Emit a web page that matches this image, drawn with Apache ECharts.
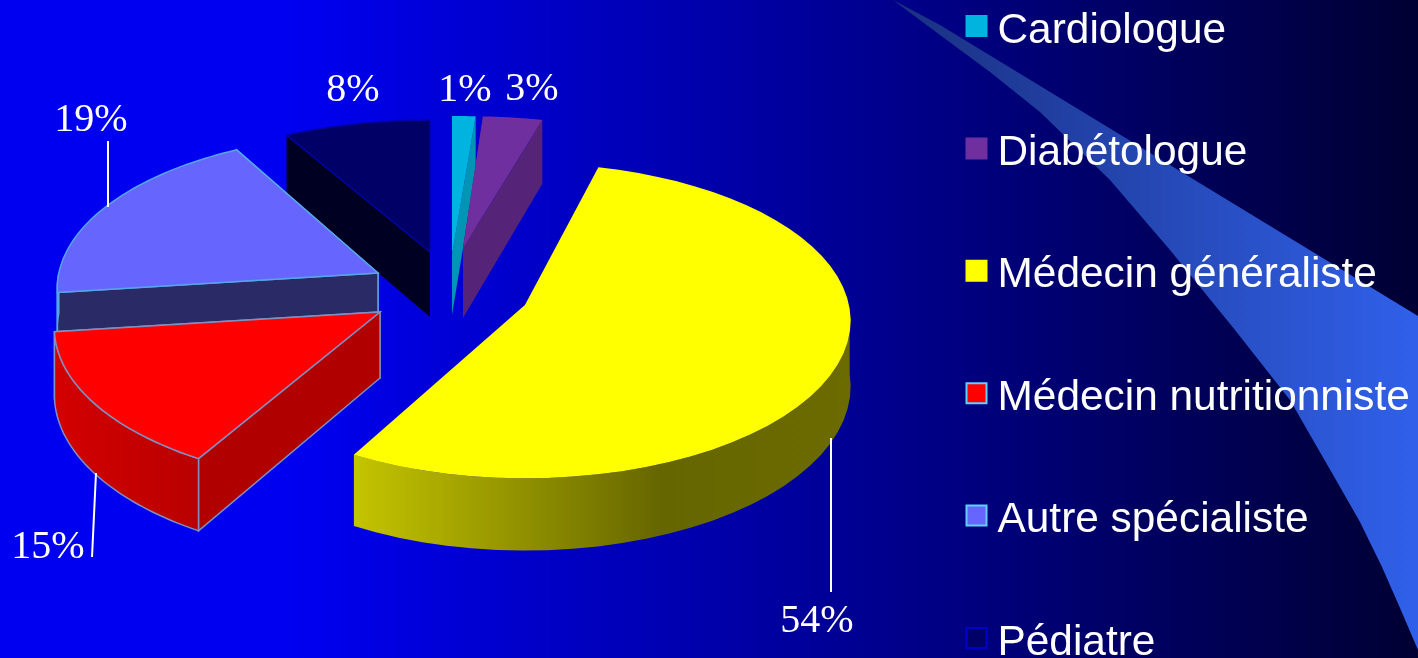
<!DOCTYPE html>
<html><head><meta charset="utf-8">
<style>html,body{margin:0;padding:0;background:#000033}#c{width:1418px;height:658px}</style>
<script src="https://cdn.jsdelivr.net/npm/echarts@6/dist/echarts.min.js"></script>
</head><body><div id="c"></div>
<script>
const categories = ['Cardiologue','Diabétologue','Médecin généraliste','Médecin nutritionniste','Autre spécialiste','Pédiatre'];
const shares = [1,3,54,15,19,8];

// look of each slice (exploded centre, thickness, colours, label place)
const A = 324, B = 156, K = 0.1;
const looks = [
 {cx:452,cy:255,ax:1.28,by:.98,h:60,z:1,top:'#00b4e0',cut:'#0095b5',side:'#0095b5',edge:null,legendEdge:'#00b4e0',lab:[465,90]},
 {cx:463,cy:248,ax:1.08,by:.93,h:70,z:2,top:'#6f2f9f',cut:'#552478',side:'#552478',edge:null,legendEdge:'#6f2f9f',lab:[532,89]},
 {cx:525,cy:305,ax:1,by:1,h:65,z:6,top:'#ffff00',cut:'#666600',side:'yellow',edge:null,legendEdge:'#ffff00',lab:[817,621],lead:[[831,438],[831,592]]},
 {cx:380,cy:312,ax:1,by:1,h:66,z:5,top:'#ff0000',cut:'#b00000',side:'red',edge:'#7f8fc0',legendEdge:'#5fd0ff',lab:[48,547],lead:[[96,473],[92,557]],startAdj:2},
 {cx:378,cy:273,ax:.985,by:.98,h:40,z:4,top:'#6666ff',cut:'#2a2a66',side:'#2a2a66',edge:'#55a5e8',legendEdge:'#5fd0ff',lab:[91,120],lead:[[108,141],[108,207]]},
 {cx:430,cy:252,ax:1,by:.93,h:65,z:3,top:'#000066',cut:'#000022',side:'#000022',edge:'#0000aa',legendEdge:'#0000cc',lab:[353,90]}
];
const swoosh = [[893,0],[940,25],[1418,316],[1418,650],[1400,608],[1382,567],[1360,522],[1332,473],[1290,400],[1235,330],[1170,250],[1110,180],[1040,112],[990,72],[940,35]];
const total = shares.reduce((a,b)=>a+b,0);
const starts = shares.map((_,i)=>shares.slice(0,i).reduce((a,b)=>a+b,0)/total*360);

function project(l, deg, down){
  const t = deg*Math.PI/180, u = Math.sin(t), v = Math.cos(t), s = 1/(1+K*v);
  return [l.cx + l.ax*A*u*s, l.cy - l.by*B*v*s + (down ? l.h*s : 0)];
}
function sideFill(l){
  if(l.side==='yellow') return new echarts.graphic.LinearGradient(355,0,851,0,[{offset:0,color:'#c4c400'},{offset:.615,color:'#666600'},{offset:1,color:'#6b6b00'}],true);
  if(l.side==='red') return new echarts.graphic.LinearGradient(52,0,202,0,[{offset:0,color:'#d40000'},{offset:1,color:'#b80000'}],true);
  return l.side;
}
function render(i){
  return function(params, api){
    const l = looks[i], a0 = starts[i]+(l.startAdj||0), a1 = starts[i] + api.value(0)/total*360;
    const arc = [], near = [], nearLow = [];
    for(let d=0; d<=48; d++){
      const a = a0+(a1-a0)*d/48;
      arc.push(project(l,a,false));
      if(Math.cos(a*Math.PI/180)<0.02){ near.push(project(l,a,false)); nearLow.push(project(l,a,true)); }
    }
    const end0 = project(l,a0,true), end1 = project(l,a1,true);
    const apex = [l.cx,l.cy], apexLow = [l.cx,l.cy+l.h];
    const stroke = l.edge ? {stroke:l.edge,lineWidth:1.5} : {lineWidth:0};
    const kids = [];
    const face = (pts,fill)=>kids.push({type:'polygon',shape:{points:pts},style:Object.assign({fill:fill},stroke)});
    if(l.edge==='#0000aa'){ // the Pédiatre slice: only its left cut shows, without a seam
      kids.push({type:'polygon',shape:{points:[apex,arc[0],end0,apexLow]},style:{fill:l.cut}});
    } else {
      face([apex,arc[48],end1,apexLow],l.cut);
      face([apex,arc[0],end0,apexLow],l.cut);
    }
    if(near.length>1) face(near.concat(nearLow.slice().reverse()),sideFill(l));
    face([apex].concat(arc),l.top);
    if(l.lead) kids.push({type:'polyline',shape:{points:l.lead},style:{stroke:'#ffffff',lineWidth:2,fill:null}});
    kids.push({type:'text',x:l.lab[0],y:l.lab[1],style:{text:api.value(0)+'%',fill:'#ffffff',font:'40px "Liberation Serif"',align:'center',verticalAlign:'middle'}});
    return {type:'group',children:kids};
  };
}
const chart = echarts.init(document.getElementById('c'),null,{renderer:'canvas'});
chart.setOption({
  animation:false,
  backgroundColor:{type:'linear',x:0,y:0,x2:1,y2:0,colorStops:[{offset:0,color:'#0000f0'},{offset:.21,color:'#0000f0'},{offset:1,color:'#000033'}]},
  graphic:[{type:'polygon',z:0,silent:true,
    shape:{points:swoosh},
    style:{fill:new echarts.graphic.LinearGradient(0,0,1,0,[{offset:0,color:'#1a3080'},{offset:1,color:'#3060ea'}])}}],
  legend:{orient:'vertical',left:965.5,top:0,height:800,padding:0,itemWidth:20,itemHeight:20,itemGap:70.4,selectedMode:false,icon:'rect',
    data:categories,formatter:'{a|{name}}',
    textStyle:{rich:{a:{color:'#ffffff',fontFamily:'Liberation Sans',fontSize:42.4,lineHeight:44,padding:[10,0,0,6]}}}},
  series:categories.map((name,i)=>({
    type:'custom',name:name,coordinateSystem:'none',z:looks[i].z+2,silent:true,
    itemStyle:{color:looks[i].top,borderColor:looks[i].legendEdge,borderWidth:2},
    renderItem:render(i),data:[[shares[i]]]
  }))
});
</script></body></html>
